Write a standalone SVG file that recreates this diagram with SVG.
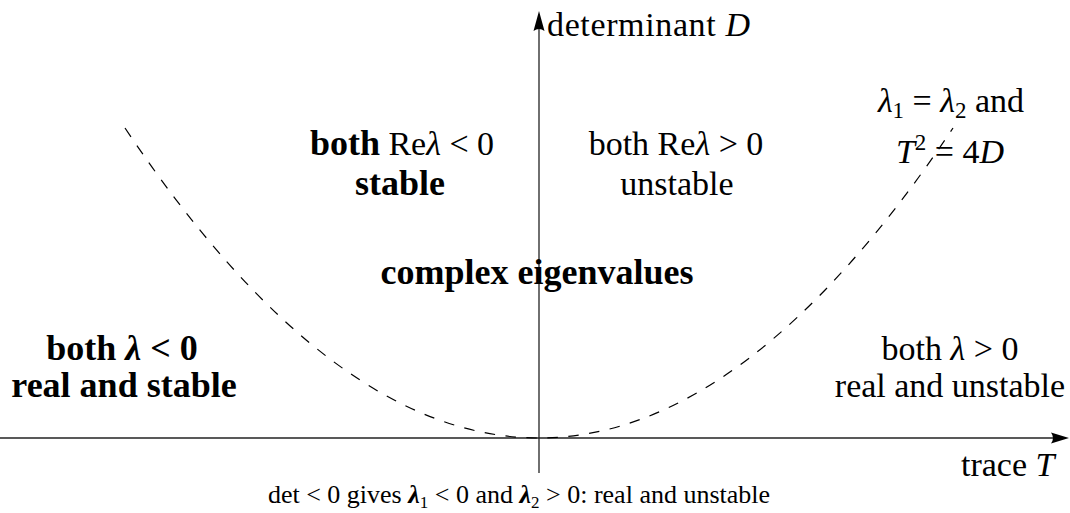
<svg xmlns="http://www.w3.org/2000/svg" width="1070" height="513" viewBox="0 0 1070 513">
<style>
.t{font-family:"Liberation Serif","Times New Roman",serif;font-size:34px;fill:#000}
.b{font-weight:bold;font-size:36px}
.i{font-style:italic}
.small{font-size:26px}
.axis{stroke:#222;stroke-width:1.3;fill:none}
.curve{stroke:#000;stroke-width:1.2;fill:none;stroke-dasharray:10.5 10.5}
.head{fill:#000}
</style>
<rect width="1070" height="513" fill="#fff"/>
<g id="connectors">
  <line class="axis" x1="0" y1="438" x2="1056" y2="438"/>
  <path class="head" d="M1069,438 L1051,432.5 Q1055,438 1051,443.5 Z"/>
  <line class="axis" x1="539" y1="473" x2="539" y2="26"/>
  <path class="head" d="M539,11 L533.5,31 Q539,27 544.5,31 Z"/>
  <path id="parabola" class="curve" d="M125,128 Q539,748 953,128"/>
</g>
<g id="label-D"><text class="t" x="547" y="36" textLength="203">determinant <tspan class="i">D</tspan></text></g>
<g id="label-T"><text class="t" x="961" y="476">trace <tspan class="i">T</tspan></text></g>
<g id="node-repeated">
  <text class="t" x="951" y="112" text-anchor="middle"><tspan class="i">λ</tspan><tspan font-size="23" dy="6">1</tspan><tspan dy="-6"> = </tspan><tspan class="i">λ</tspan><tspan font-size="23" dy="6">2</tspan><tspan dy="-6"> and</tspan></text>
  <text class="t" x="950" y="163" text-anchor="middle"><tspan class="i">T</tspan><tspan font-size="23" dy="-13">2</tspan><tspan dy="13"> = 4</tspan><tspan class="i">D</tspan></text>
</g>
<g id="node-stable-spiral">
  <text class="t" x="402" y="155" text-anchor="middle"><tspan class="b">both</tspan> Re<tspan class="i">λ</tspan> &lt; 0</text>
  <text class="t b" x="400" y="195" text-anchor="middle">stable</text>
</g>
<g id="node-unstable-spiral">
  <text class="t" x="676" y="155" text-anchor="middle">both Re<tspan class="i">λ</tspan> &gt; 0</text>
  <text class="t" x="677" y="195" text-anchor="middle">unstable</text>
</g>
<g id="node-complex"><text class="t b" x="537" y="284" text-anchor="middle">complex eigenvalues</text></g>
<g id="node-stable-node">
  <text class="t b" x="122" y="360" text-anchor="middle">both <tspan class="i">λ</tspan> &lt; 0</text>
  <text class="t b" x="124" y="397" text-anchor="middle">real and stable</text>
</g>
<g id="node-unstable-node">
  <text class="t" x="950" y="360" text-anchor="middle">both <tspan class="i">λ</tspan> &gt; 0</text>
  <text class="t" x="950" y="397" text-anchor="middle">real and unstable</text>
</g>
<g id="node-saddle">
  <text class="t small" x="519" y="503" text-anchor="middle">det &lt; 0 gives <tspan class="i" font-weight="bold">λ</tspan><tspan font-size="17" dy="5">1</tspan><tspan dy="-5"> &lt; 0 and </tspan><tspan class="i" font-weight="bold">λ</tspan><tspan font-size="17" dy="5">2</tspan><tspan dy="-5"> &gt; 0: real and unstable</tspan></text>
</g>
</svg>
